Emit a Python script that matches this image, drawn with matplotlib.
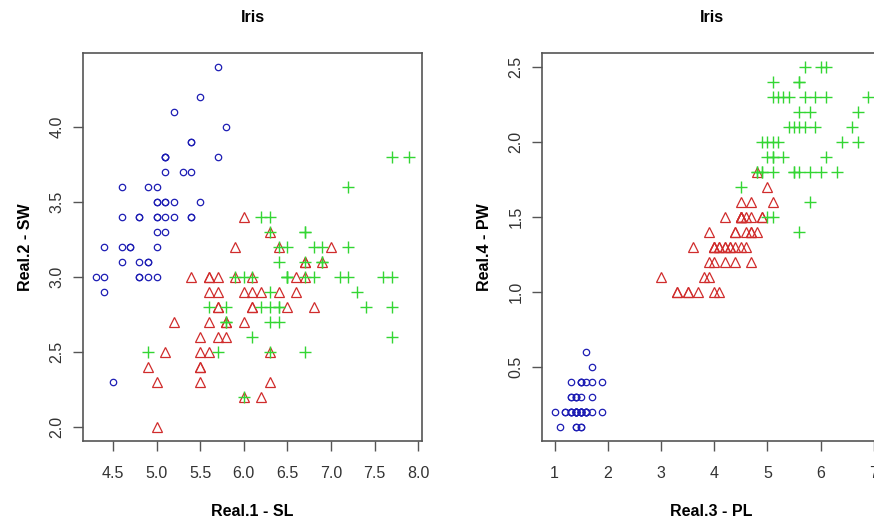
import matplotlib
matplotlib.use("Agg")
import matplotlib.pyplot as plt
import numpy as np

matplotlib.rcParams['font.family'] = ['Liberation Sans', 'DejaVu Sans']

# iris data (R datasets::iris)
sepal_length = [
    5.1, 4.9, 4.7, 4.6, 5.0, 5.4, 4.6, 5.0, 4.4, 4.9, 5.4, 4.8, 4.8, 4.3, 5.8, 5.7, 5.4, 5.1, 5.7, 5.1,
    5.4, 5.1, 4.6, 5.1, 4.8, 5.0, 5.0, 5.2, 5.2, 4.7, 4.8, 5.4, 5.2, 5.5, 4.9, 5.0, 5.5, 4.9, 4.4, 5.1,
    5.0, 4.5, 4.4, 5.0, 5.1, 4.8, 5.1, 4.6, 5.3, 5.0,
    7.0, 6.4, 6.9, 5.5, 6.5, 5.7, 6.3, 4.9, 6.6, 5.2, 5.0, 5.9, 6.0, 6.1, 5.6, 6.7, 5.6, 5.8, 6.2, 5.6,
    5.9, 6.1, 6.3, 6.1, 6.4, 6.6, 6.8, 6.7, 6.0, 5.7, 5.5, 5.5, 5.8, 6.0, 5.4, 6.0, 6.7, 6.3, 5.6, 5.5,
    5.5, 6.1, 5.8, 5.0, 5.6, 5.7, 5.7, 6.2, 5.1, 5.7,
    6.3, 5.8, 7.1, 6.3, 6.5, 7.6, 4.9, 7.3, 6.7, 7.2, 6.5, 6.4, 6.8, 5.7, 5.8, 6.4, 6.5, 7.7, 7.7, 6.0,
    6.9, 5.6, 7.7, 6.3, 6.7, 7.2, 6.2, 6.1, 6.4, 7.2, 7.4, 7.9, 6.4, 6.3, 6.1, 7.7, 6.3, 6.4, 6.0, 6.9,
    6.7, 6.9, 5.8, 6.8, 6.7, 6.7, 6.3, 6.5, 6.2, 5.9]
sepal_width = [
    3.5, 3.0, 3.2, 3.1, 3.6, 3.9, 3.4, 3.4, 2.9, 3.1, 3.7, 3.4, 3.0, 3.0, 4.0, 4.4, 3.9, 3.5, 3.8, 3.8,
    3.4, 3.7, 3.6, 3.3, 3.4, 3.0, 3.4, 3.5, 3.4, 3.2, 3.1, 3.4, 4.1, 4.2, 3.1, 3.2, 3.5, 3.6, 3.0, 3.4,
    3.5, 2.3, 3.2, 3.5, 3.8, 3.0, 3.8, 3.2, 3.7, 3.3,
    3.2, 3.2, 3.1, 2.3, 2.8, 2.8, 3.3, 2.4, 2.9, 2.7, 2.0, 3.0, 2.2, 2.9, 2.9, 3.1, 3.0, 2.7, 2.2, 2.5,
    3.2, 2.8, 2.5, 2.8, 2.9, 3.0, 2.8, 3.0, 2.9, 2.6, 2.4, 2.4, 2.7, 2.7, 3.0, 3.4, 3.1, 2.3, 3.0, 2.5,
    2.6, 3.0, 2.6, 2.3, 2.7, 3.0, 2.9, 2.9, 2.5, 2.8,
    3.3, 2.7, 3.0, 2.9, 3.0, 3.0, 2.5, 2.9, 2.5, 3.6, 3.2, 2.7, 3.0, 2.5, 2.8, 3.2, 3.0, 3.8, 2.6, 2.2,
    3.2, 2.8, 2.8, 2.7, 3.3, 3.2, 2.8, 3.0, 2.8, 3.0, 2.8, 3.8, 2.8, 2.8, 2.6, 3.0, 3.4, 3.1, 3.0, 3.1,
    3.1, 3.1, 2.7, 3.2, 3.3, 3.0, 2.5, 3.0, 3.4, 3.0]
petal_length = [
    1.4, 1.4, 1.3, 1.5, 1.4, 1.7, 1.4, 1.5, 1.4, 1.5, 1.5, 1.6, 1.4, 1.1, 1.2, 1.5, 1.3, 1.4, 1.7, 1.5,
    1.7, 1.5, 1.0, 1.7, 1.9, 1.6, 1.6, 1.5, 1.4, 1.6, 1.6, 1.5, 1.5, 1.4, 1.5, 1.2, 1.3, 1.4, 1.3, 1.5,
    1.3, 1.3, 1.3, 1.6, 1.9, 1.4, 1.6, 1.4, 1.5, 1.4,
    4.7, 4.5, 4.9, 4.0, 4.6, 4.5, 4.7, 3.3, 4.6, 3.9, 3.5, 4.2, 4.0, 4.7, 3.6, 4.4, 4.5, 4.1, 4.5, 3.9,
    4.8, 4.0, 4.9, 4.7, 4.3, 4.4, 4.8, 5.0, 4.5, 3.5, 3.8, 3.7, 3.9, 5.1, 4.5, 4.5, 4.7, 4.4, 4.1, 4.0,
    4.4, 4.6, 4.0, 3.3, 4.2, 4.2, 4.2, 4.3, 3.0, 4.1,
    6.0, 5.1, 5.9, 5.6, 5.8, 6.6, 4.5, 6.3, 5.8, 6.1, 5.1, 5.3, 5.5, 5.0, 5.1, 5.3, 5.5, 6.7, 6.9, 5.0,
    5.7, 4.9, 6.7, 4.9, 5.7, 6.0, 4.8, 4.9, 5.6, 5.8, 6.1, 6.4, 5.6, 5.1, 5.6, 6.1, 5.6, 5.5, 4.8, 5.4,
    5.6, 5.1, 5.1, 5.9, 5.7, 5.2, 5.0, 5.2, 5.4, 5.1]
petal_width = [
    0.2, 0.2, 0.2, 0.2, 0.2, 0.4, 0.3, 0.2, 0.2, 0.1, 0.2, 0.2, 0.1, 0.1, 0.2, 0.4, 0.4, 0.3, 0.3, 0.3,
    0.2, 0.4, 0.2, 0.5, 0.2, 0.2, 0.4, 0.2, 0.2, 0.2, 0.2, 0.4, 0.1, 0.2, 0.2, 0.2, 0.2, 0.1, 0.2, 0.2,
    0.3, 0.3, 0.2, 0.6, 0.4, 0.3, 0.2, 0.2, 0.2, 0.2,
    1.4, 1.5, 1.5, 1.3, 1.5, 1.3, 1.6, 1.0, 1.3, 1.4, 1.0, 1.5, 1.0, 1.4, 1.3, 1.4, 1.5, 1.0, 1.5, 1.1,
    1.8, 1.3, 1.5, 1.2, 1.3, 1.4, 1.4, 1.7, 1.5, 1.0, 1.1, 1.0, 1.2, 1.6, 1.5, 1.6, 1.5, 1.3, 1.3, 1.3,
    1.2, 1.4, 1.2, 1.0, 1.3, 1.2, 1.3, 1.3, 1.1, 1.3,
    2.5, 1.9, 2.1, 1.8, 2.2, 2.1, 1.7, 1.8, 1.8, 2.5, 2.0, 1.9, 2.1, 2.0, 2.4, 2.3, 1.8, 2.2, 2.3, 1.5,
    2.3, 2.0, 2.0, 1.8, 2.1, 1.8, 1.8, 1.8, 2.1, 1.6, 1.9, 2.0, 2.2, 1.5, 1.4, 2.3, 2.4, 1.8, 1.8, 2.1,
    2.4, 2.3, 1.9, 2.3, 2.5, 2.3, 1.9, 2.0, 2.3, 1.8]
species = ['setosa'] * 50 + ['versicolor'] * 50 + ['virginica'] * 50

# R style: col = species, pch = species
styles = {
    'setosa': {'color': '#1E1EB4', 'marker': 'o', 'size': 4.6},
    'versicolor': {'color': '#D02C2C', 'marker': '^', 'size': 7.5},
    'virginica': {'color': '#33D633', 'marker': '+', 'size': 8},
}

sl = np.array(sepal_length)
sw = np.array(sepal_width)
pl = np.array(petal_length)
pw = np.array(petal_width)
sp = np.array(species)

W, H = 874, 522
fig = plt.figure(figsize=(W / 100, H / 100), dpi=100)
ax1 = fig.add_axes([83 / W, (H - 441) / H, 339 / W, 388 / H])
ax2 = fig.add_axes([542 / W, (H - 441) / H, 339 / W, 388 / H])

axis_col = '#555555'


def draw(ax, x, y, xticks, yticks, xlabel, ylabel):
    for s in ['setosa', 'versicolor', 'virginica']:
        st = styles[s]
        m = sp == s
        if st['marker'] == '+':
            ax.plot(x[m], y[m], linestyle='none', marker='+', ms=st['size'],
                    mew=1.0, color=st['color'])
        else:
            ax.plot(x[m], y[m], linestyle='none', marker=st['marker'], ms=st['size'],
                    mfc='none', mec=st['color'], mew=0.9)
    # R's default 4% axis extension
    xr = x.max() - x.min()
    yr = y.max() - y.min()
    ax.set_xlim(x.min() - 0.04 * xr, x.max() + 0.04 * xr)
    ax.set_ylim(y.min() - 0.04 * yr, y.max() + 0.04 * yr)
    ax.set_xticks(xticks)
    ax.set_yticks(yticks)
    ax.set_xticklabels([str(v) for v in xticks])
    ax.set_yticklabels([f"{v:.1f}" for v in yticks], rotation=90, va='center')
    ax.tick_params(direction='out', length=7, width=1, colors=axis_col,
                   labelcolor='#333333', labelsize=11.5)
    ax.tick_params(axis='x', pad=11)
    ax.tick_params(axis='y', pad=6.5)
    for sp_ in ax.spines.values():
        sp_.set_color(axis_col)
        sp_.set_linewidth(1.2)
    ax.set_title('Iris', fontsize=11.5, fontweight='bold', pad=22.5)
    ax.set_xlabel(xlabel, fontsize=11.5, fontweight='bold', labelpad=16.5)
    ax.set_ylabel(ylabel, fontsize=11.5, fontweight='bold', labelpad=12)


draw(ax1, sl, sw, [4.5, 5.0, 5.5, 6.0, 6.5, 7.0, 7.5, 8.0], [2.0, 2.5, 3.0, 3.5, 4.0],
     'Real.1 - SL', 'Real.2 - SW')
draw(ax2, pl, pw, [1, 2, 3, 4, 5, 6, 7], [0.5, 1.0, 1.5, 2.0, 2.5],
     'Real.3 - PL', 'Real.4 - PW')

fig.savefig('out.png', dpi=100)
